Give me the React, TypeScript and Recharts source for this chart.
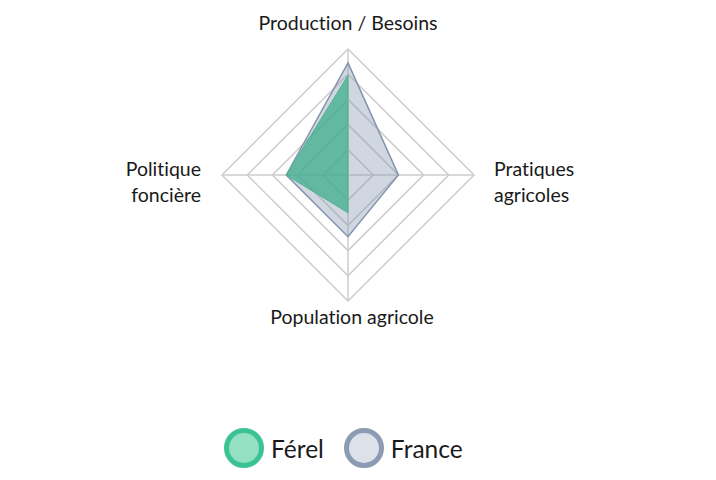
import {
    RadarChart,
    Radar,
    PolarGrid,
    PolarAngleAxis,
    PolarRadiusAxis,
    Legend,
} from "recharts";

const axes = ["Production / Besoins", "Pratiques agricoles", "Population agricole", "Politique foncière"];
const ferel = [79, 0, 30, 49];
const france = [89, 40, 49, 49];

const data = axes.map((a, i) => ({ axis: a, ferel: ferel[i], france: france[i] }));

const FONT = "Lato, 'Noto Sans', sans-serif";

const AxisTick = (props: any) => {
    const { x, y, payload } = props;
    const angle = Math.round(payload.coordinate);
    const style = {
        fontFamily: FONT,
        fontSize: 19.5,
        fill: "#1a1a1a",
        style: { fontVariantLigatures: "none" as const },
    };
    if (angle === 90) {
        return <text x={x} y={y - 11} textAnchor="middle" {...style}>{payload.value}</text>;
    }
    if (angle === -90 || angle === 270) {
        return <text x={x + 4} y={y + 15} textAnchor="middle" {...style}>{payload.value}</text>;
    }
    const words = String(payload.value).split(" ");
    const isRight = angle === 0 || angle === 360;
    const tx = isRight ? x + 12 : x - 13;
    return (
        <text x={tx} y={y + 1} textAnchor={isRight ? "start" : "end"} {...style}>
            {words.map((w, i) => (
                <tspan key={i} x={tx} dy={i === 0 ? 0 : 25.7}>{w}</tspan>
            ))}
        </text>
    );
};

const legendItems = [
    { name: "Férel", fill: "#94e0c4", stroke: "#3cc393" },
    { name: "France", fill: "#dde1ea", stroke: "#8a9bb3" },
];

const renderLegend = () => (
    <div style={{ display: "flex", alignItems: "center", fontFamily: FONT }}>
        {legendItems.map((it) => (
            <div key={it.name} style={{ display: "flex", alignItems: "center", marginRight: 20 }}>
                <div
                    style={{
                        width: 30,
                        height: 30,
                        borderRadius: "50%",
                        background: it.fill,
                        border: `5px solid ${it.stroke}`,
                    }}
                />
                <span style={{ marginLeft: 7, fontSize: 24.5, color: "#1a1a1a" }}>{it.name}</span>
            </div>
        ))}
    </div>
);

const App = () => {
    return (
        <RadarChart width={700} height={464} cx={340} cy={167} outerRadius={126} data={data}>
            <PolarGrid stroke="#cccccc" strokeWidth={1.5} gridType="polygon" />
            <PolarAngleAxis dataKey="axis" tick={AxisTick} tickLine={false} axisLine={false} />
            <PolarRadiusAxis domain={[0, 100]} tickCount={6} tick={false} axisLine={false} />
            <Radar
                name="France"
                dataKey="france"
                stroke="#8494ad"
                strokeWidth={1.5}
                fill="#8a9bb3"
                fillOpacity={0.4}
                isAnimationActive={false}
            />
            <Radar
                name="Férel"
                dataKey="ferel"
                stroke="#4fb394"
                strokeWidth={1}
                fill="#3fae8c"
                fillOpacity={0.75}
                isAnimationActive={false}
            />
            <Legend content={renderLegend} wrapperStyle={{ top: 420, left: 216, width: 400, bottom: "auto" }} />
        </RadarChart>
    );
};

export default App;
